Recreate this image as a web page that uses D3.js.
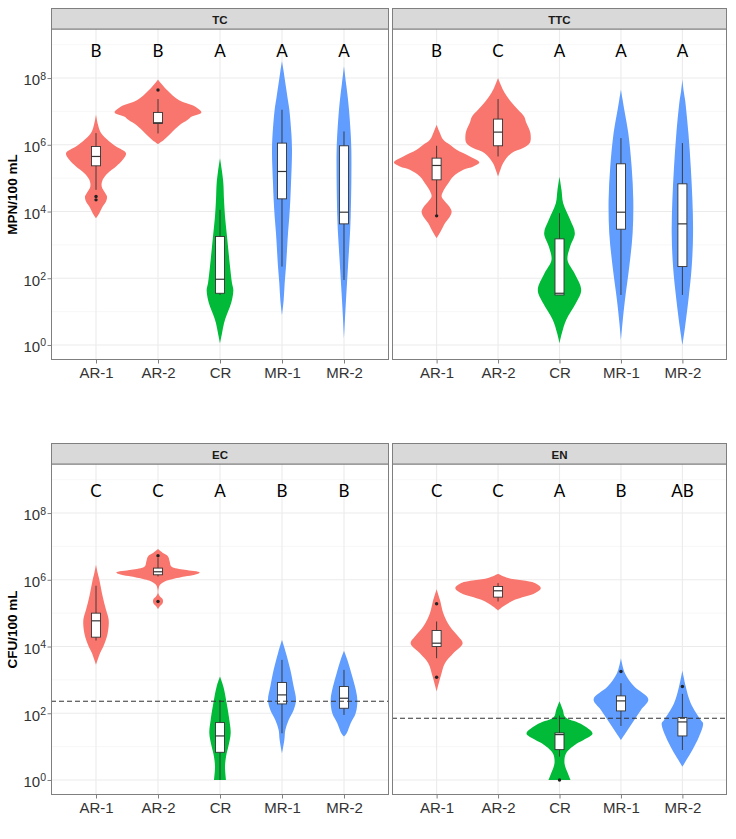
<!DOCTYPE html>
<html><head><meta charset="utf-8">
<script src="https://cdn.jsdelivr.net/npm/d3@7"></script>
<style>body{margin:0;background:#fff}svg{display:block}</style>
</head><body>
<svg id="chart" width="736" height="839"></svg>
<script>
// ---------- DATA (values in log10 units) ----------
const categories = ["AR-1","AR-2","CR","MR-1","MR-2"];
const groupOf = ["AR","AR","CR","MR","MR"];
const panels = ["TC","TTC","EC","EN"];
const yTitles = ["MPN/100 mL","CFU/100 mL"];
const yTickExps = [0,2,4,6,8];
const minorExps = [1,3,5,7,9];

const lettersTC  = ["B","B","A","A","A"];
const lettersTTC = ["B","C","A","A","A"];
const lettersEC  = ["C","C","A","B","B"];
const lettersEN  = ["C","C","A","B","AB"];

// violin outlines: [log10 value, relative density]
const violinTC = [
  [[6.9,0],[6.6,6],[6.35,15],[6.1,40],[5.95,60],[5.75,90],[5.55,80],[5.35,60],[5.15,35],[4.95,20],[4.75,17],[4.55,28],[4.45,33],[4.3,30],[4.15,20],[3.95,10],[3.8,0]],
  [[7.96,0],[7.85,8],[7.64,27],[7.34,62],[7.14,112],[6.97,130],[6.84,100],[6.74,88],[6.59,65],[6.34,38],[6.15,18],[6.02,0]],
  [[5.6,0],[5.2,6],[4.85,10],[4.35,12],[3.85,15],[3.35,20],[2.85,25],[2.35,30],[1.85,36],[1.65,40],[1.4,37],[1.15,30],[0.9,20],[0.65,12],[0.35,6],[0.05,0]],
  [[8.5,0],[8.2,5],[7.85,10],[7.45,16],[7.05,22],[6.35,28],[5.85,30],[5.35,29],[4.85,27],[4.35,25],[3.85,22],[3.35,18],[2.85,15],[2.35,12],[1.85,8],[1.35,5],[0.9,0]],
  [[8.35,0],[7.85,6],[7.45,11],[7.05,15],[6.35,20],[5.85,22],[4.85,22],[3.85,20],[3.35,18],[2.85,15],[2.35,12],[1.85,9],[1.35,6],[0.8,3],[0.2,0]]
];
const violinTTC = [
  [[6.6,0],[6.4,8],[6.15,20],[6.0,40],[5.85,60],[5.65,100],[5.47,128],[5.35,110],[5.25,80],[5.05,50],[4.85,35],[4.65,22],[4.45,15],[4.3,25],[4.15,38],[4.0,45],[3.85,40],[3.65,25],[3.4,12],[3.2,0]],
  [[8.0,0],[7.8,8],[7.55,20],[7.3,38],[7.05,60],[6.85,78],[6.65,85],[6.35,97],[6.05,95],[5.9,75],[5.75,40],[5.45,15],[5.25,7],[5.05,0]],
  [[5.05,0],[4.65,6],[4.25,11],[3.75,32],[3.35,46],[2.95,32],[2.55,24],[2.15,45],[1.65,65],[1.25,49],[0.75,20],[0.35,7],[0.05,0]],
  [[7.65,0],[7.35,5],[7.05,10],[6.35,22],[5.35,32],[4.35,37],[3.35,35],[2.35,25],[1.35,12],[0.7,5],[0.15,0]],
  [[7.95,0],[7.6,4],[7.35,8],[6.35,18],[5.35,25],[4.35,30],[3.35,32],[2.35,28],[1.35,18],[0.55,8],[0.0,0]]
];
const violinEC = [
  [[6.45,0],[6.2,5],[6.0,10],[5.5,20],[5.1,30],[4.8,38],[4.4,35],[4.0,22],[3.8,12],[3.45,0]],
  [[6.92,0],[6.8,15],[6.7,30],[6.55,35],[6.4,40],[6.3,80],[6.22,125],[6.15,110],[6.1,80],[6.0,35],[5.95,20],[5.85,6],[5.75,2],[5.6,1],[5.5,6],[5.42,14],[5.35,15],[5.28,13],[5.2,5],[5.12,0]],
  [[3.1,0],[2.8,10],[2.3,20],[1.8,28],[1.4,32],[1.0,25],[0.7,18],[0.4,15],[0.0,18]],
  [[4.2,0],[3.8,12],[3.3,25],[2.8,35],[2.4,42],[2.1,35],[1.8,20],[1.5,10],[1.2,7],[0.8,0]],
  [[3.87,0],[3.6,10],[3.2,22],[2.8,33],[2.4,40],[2.0,35],[1.7,20],[1.4,8],[1.3,0]]
];
const violinEN = [
  [[5.72,0],[5.4,10],[5.0,20],[4.6,40],[4.3,65],[4.1,78],[3.8,50],[3.5,25],[3.1,12],[2.65,0]],
  [[6.18,0],[6.05,30],[5.9,110],[5.75,128],[5.6,110],[5.4,50],[5.2,15],[5.08,0]],
  [[2.36,0],[2.1,10],[1.89,17],[1.69,62],[1.39,99],[1.2,72],[1.09,52],[0.8,20],[0.5,15],[0.2,25],[0.0,33]],
  [[3.65,0],[3.2,12],[2.8,40],[2.42,82],[2.1,60],[1.8,40],[1.5,20],[1.2,0]],
  [[3.28,0],[2.8,10],[2.3,25],[1.8,55],[1.7,62],[1.3,50],[0.9,30],[0.6,12],[0.4,0]]
];

// box stats: [whiskerLow, q1, median, q3, whiskerHigh]
const boxTC  = [[4.65,5.37,5.65,5.95,6.35],[6.34,6.64,6.66,6.97,7.37],[1.5,1.55,1.97,3.25,4.05],[2.35,4.38,5.2,6.05,7.05],[1.95,3.63,3.98,5.97,6.4]];
const boxTTC = [[3.87,4.95,5.38,5.6,5.97],[5.65,5.97,6.38,6.77,7.37],[1.5,1.5,1.55,3.18,3.95],[1.5,3.47,3.98,5.43,6.2],[1.5,2.35,3.63,4.83,6.05]];
const boxEC  = [[4.18,4.28,4.77,5.0,5.82],[6.1,6.15,6.24,6.35,6.65],[0.0,0.83,1.32,1.72,2.4],[1.4,2.28,2.55,2.92,3.6],[1.95,2.15,2.45,2.8,3.3]];
const boxEN  = [[3.65,4.0,4.1,4.48,4.75],[5.35,5.48,5.67,5.8,5.9],[0.7,0.91,1.36,1.41,1.93],[1.62,2.07,2.37,2.52,2.9],[0.9,1.32,1.74,1.87,2.58]];

const outTC  = [[4.45,4.35],[7.64],[],[],[]];
const outTTC = [[3.87],[],[],[],[]];
const outEC  = [[],[6.72,5.35],[],[],[]];
const outEN  = [[5.28,3.08],[],[0.0],[3.25],[2.8]];

const thresholds = [null, null, 2.36, 1.85];
const letterLevel = [8.8, 8.8, 8.65, 8.65];

// ---------- LAYOUT ----------
const colors = {AR:"#F8766D", CR:"#00BA38", MR:"#619CFF"};
const cols = [[51,389],[392,727]];
const rows = [{stripTop:8, top:29, bottom:360},{stripTop:443, top:464, bottom:795}];
const yDomain = [Math.pow(10,-0.45), Math.pow(10,9.47)];

const violins = [violinTC, violinTTC, violinEC, violinEN];
const boxes = [boxTC, boxTTC, boxEC, boxEN];
const outs = [outTC, outTTC, outEC, outEN];
const letters = [lettersTC, lettersTTC, lettersEC, lettersEN];

const svg = d3.select("#chart");
const wScale = d3.scaleLinear().domain([0,128]).range([0,42.7]);
const boxHalf = 4.5;
const ink = "#333333";

panels.forEach((name, pi) => {
  const c = cols[pi % 2], r = rows[Math.floor(pi / 2)];
  const x = d3.scalePoint().domain(categories).range(c).padding(0.726);
  const y = d3.scaleLog().domain(yDomain).range([r.bottom, r.top]);
  const g = svg.append("g");

  // background & grid
  g.append("rect").attr("x",c[0]).attr("y",r.top).attr("width",c[1]-c[0]).attr("height",r.bottom-r.top).attr("fill","#fff");
  minorExps.forEach(e => g.append("line").attr("x1",c[0]).attr("x2",c[1]).attr("y1",y(10**e)).attr("y2",y(10**e)).attr("stroke","#F2F2F2").attr("stroke-width",0.6));
  yTickExps.forEach(e => g.append("line").attr("x1",c[0]).attr("x2",c[1]).attr("y1",y(10**e)).attr("y2",y(10**e)).attr("stroke","#EBEBEB").attr("stroke-width",1.1));
  categories.forEach(cat => g.append("line").attr("x1",x(cat)).attr("x2",x(cat)).attr("y1",r.top).attr("y2",r.bottom).attr("stroke","#EBEBEB").attr("stroke-width",1.1));

  // violins
  const area = d3.area()
    .curve(d3.curveCatmullRom.alpha(0.5))
    .y(d => y(10**d[0]));
  categories.forEach((cat, ci) => {
    const cx = x(cat);
    g.append("path").datum(violins[pi][ci])
      .attr("d", area.x0(d => cx - wScale(d[1])).x1(d => cx + wScale(d[1])))
      .attr("fill", colors[groupOf[ci]]).attr("stroke","none");
  });

  // boxplots
  categories.forEach((cat, ci) => {
    const cx = x(cat), b = boxes[pi][ci];
    g.append("line").attr("x1",cx).attr("x2",cx).attr("y1",y(10**b[0])).attr("y2",y(10**b[4])).attr("stroke",ink).attr("stroke-width",0.9);
    g.append("rect").attr("x",cx-boxHalf).attr("width",boxHalf*2)
      .attr("y",y(10**b[3])).attr("height",Math.max(0.5,y(10**b[1])-y(10**b[3])))
      .attr("fill","#fff").attr("stroke",ink).attr("stroke-width",0.9);
    g.append("line").attr("x1",cx-boxHalf).attr("x2",cx+boxHalf).attr("y1",y(10**b[2])).attr("y2",y(10**b[2])).attr("stroke",ink).attr("stroke-width",1.2);
    outs[pi][ci].forEach(o => g.append("circle").attr("cx",cx).attr("cy",y(10**o)).attr("r",1.7).attr("fill","#222"));
  });

  // letters
  categories.forEach((cat, ci) => {
    g.append("text").attr("x",x(cat)).attr("y",y(10**letterLevel[pi])).attr("dy","0.36em")
      .attr("text-anchor","middle").attr("font-family","Lato, 'Open Sans', sans-serif").attr("font-size",17)
      .attr("fill","#000").text(letters[pi][ci]);
  });

  // threshold
  if (thresholds[pi] !== null) {
    g.append("line").attr("x1",c[0]).attr("x2",c[1]).attr("y1",y(10**thresholds[pi])).attr("y2",y(10**thresholds[pi]))
      .attr("stroke","#333").attr("stroke-width",1).attr("stroke-dasharray","5,3");
  }

  // panel border
  g.append("rect").attr("x",c[0]+0.5).attr("y",r.top).attr("width",c[1]-c[0]-1).attr("height",r.bottom-r.top-0.5)
    .attr("fill","none").attr("stroke","#7F7F7F").attr("stroke-width",1);
  // strip
  g.append("rect").attr("x",c[0]+0.5).attr("y",r.stripTop+0.5).attr("width",c[1]-c[0]-1).attr("height",r.top-r.stripTop-0.5)
    .attr("fill","#D9D9D9").attr("stroke","#7F7F7F").attr("stroke-width",1);
  g.append("text").attr("x",(c[0]+c[1])/2).attr("y",(r.stripTop+r.top)/2+1).attr("dy","0.35em")
    .attr("text-anchor","middle").attr("font-family","'Liberation Sans', Arial, sans-serif").attr("font-weight","bold")
    .attr("font-size",11.5).attr("fill","#1a1a1a").text(name);

  // x axis
  const xAxis = g.append("g").attr("transform",`translate(0,${r.bottom})`)
    .call(d3.axisBottom(x).tickSize(3.5).tickPadding(4));
  xAxis.select(".domain").remove();
  xAxis.selectAll(".tick line").attr("stroke","#7F7F7F");
  xAxis.selectAll(".tick text").attr("font-family","'Liberation Sans', Arial, sans-serif").attr("font-size",15).attr("fill","#333");

  // y axis (left column only)
  if (pi % 2 === 0) {
    const yAxis = g.append("g").attr("transform",`translate(${c[0]},0)`)
      .call(d3.axisLeft(y).tickValues(yTickExps.map(e => 10**e)).tickSize(3.5).tickPadding(3).tickFormat(""));
    yAxis.select(".domain").remove();
    yAxis.selectAll(".tick line").attr("stroke","#7F7F7F");
    yAxis.selectAll(".tick").each(function(d) {
      const t = d3.select(this).append("text").attr("x",-5).attr("dy","0.45em").attr("text-anchor","end")
        .attr("font-family","'Liberation Sans', Arial, sans-serif").attr("font-size",15).attr("fill","#333");
      t.append("tspan").text("10");
      t.append("tspan").attr("dy","-0.55em").attr("font-size",10.5).text(String(Math.round(Math.log10(d))));
    });
    g.append("text").attr("transform",`translate(17,${(r.top+r.bottom)/2}) rotate(-90)`)
      .attr("text-anchor","middle").attr("font-family","'Liberation Sans', Arial, sans-serif").attr("font-weight","bold")
      .attr("font-size",13.5).attr("fill","#000").text(yTitles[Math.floor(pi/2)]);
  }
});
</script>
</body></html>
